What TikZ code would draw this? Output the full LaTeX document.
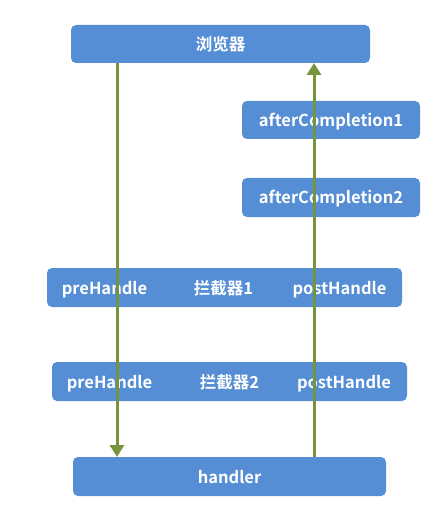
\documentclass[tikz,border=0pt]{standalone}
\usepackage{fontspec}
\setmainfont{Noto Sans CJK SC}[BoldFont={* Bold}]
\usetikzlibrary{arrows.meta}
\definecolor{boxblue}{HTML}{558ED5}
\definecolor{arrowgreen}{HTML}{77933C}
\tikzset{
  box/.style={fill=boxblue, draw=none, rounded corners=5bp},
  lbl/.style={text=white, font=\bfseries\fontsize{16.5bp}{18bp}\selectfont, inner sep=0pt, anchor=base},
  flow/.style={draw=arrowgreen, line width=3bp, -{Triangle[width=14bp,length=12bp]}}
}
\begin{document}
\begin{tikzpicture}[x=1bp,y=-1bp]
\useasboundingbox (0,0) rectangle (436,512);
% boxes
\fill[box] (71,25) rectangle (370,63);
\fill[box] (242,101) rectangle (420,139);
\fill[box] (242,178) rectangle (420,217);
\fill[box] (47,268) rectangle (402,307);
\fill[box] (52,362) rectangle (407,401);
\fill[box] (73,457) rectangle (386,496);
% labels
\node[lbl] (browser) at (220.5,50.5) {浏览器};
\node[lbl] (ac1) at (331,127) {afterCompletion1};
\node[lbl] (ac2) at (331,204) {afterCompletion2};
\node[lbl] (pre1) at (104.5,294) {preHandle};
\node[lbl] (int1) at (223.5,294) {拦截器1};
\node[lbl] (post1) at (339.5,294) {postHandle};
\node[lbl] (pre2) at (109.5,388) {preHandle};
\node[lbl] (int2) at (229.5,388) {拦截器2};
\node[lbl] (post2) at (344,388) {postHandle};
\node[lbl] (handler) at (229.5,483) {handler};
% connector endpoints
\coordinate (downStart) at (117,63);
\coordinate (downEnd) at (117,457);
\coordinate (upStart) at (314,457);
\coordinate (upEnd) at (314,63);
\draw[flow] (downStart) -- (downEnd);
\draw[flow] (upStart) -- (upEnd);
\end{tikzpicture}
\end{document}
